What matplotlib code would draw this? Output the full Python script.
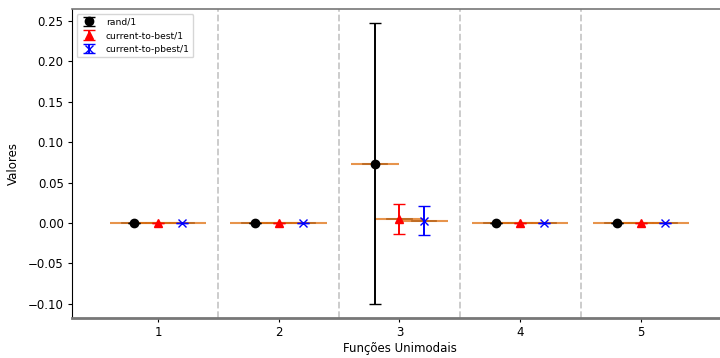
"""
Mean and std of the final error for three DE mutation strategies
on the unimodal benchmark functions.
"""

import matplotlib

matplotlib.use("Agg")
from matplotlib import pyplot as plt

functions = [1, 2, 3, 4, 5]
strategies = ["rand/1", "current-to-best/1", "current-to-pbest/1"]

rand_mean = [0.0, 0.0, 0.0735, 0.0, 0.0]
rand_std = [0.0, 0.0, 0.1735, 0.0, 0.0]
best_mean = [0.0, 0.0, 0.0050, 0.0, 0.0]
best_std = [0.0, 0.0, 0.0180, 0.0, 0.0]
pbest_mean = [0.0, 0.0, 0.0028, 0.0, 0.0]
pbest_std = [0.0, 0.0, 0.0180, 0.0, 0.0]

means = [rand_mean, best_mean, pbest_mean]
stds = [rand_std, best_std, pbest_std]
offsets = [-0.2, 0.0, 0.2]
colors = ["black", "red", "blue"]
markers = ["o", "^", "x"]

fig = plt.figure(figsize=(7.2, 3.58), dpi=100)
ax = fig.add_axes([0.1, 0.112, 0.9096, 0.862])

# boxplot of the means (collapses to a median line at each position)
for mean, off in zip(means, offsets):
    stats = [
        dict(med=m, q1=m, q3=m, whislo=m, whishi=m, fliers=[])
        for m in mean
    ]
    ax.bxp(
        stats,
        positions=[f + off for f in functions],
        widths=0.4,
        showbox=False,
        manage_ticks=False,
        medianprops=dict(color="#e07010", alpha=0.75, linewidth=1.5),
        capprops=dict(color="#333333", alpha=0.6, linewidth=1.2),
        whiskerprops=dict(color="#333333", alpha=0.6, linewidth=0.8),
    )

for name, mean, std, off, c, mk in zip(strategies, means, stds, offsets, colors, markers):
    ax.errorbar(
        [f + off for f in functions],
        mean,
        yerr=std,
        fmt=mk,
        color=c,
        ecolor=c,
        markersize=6,
        capsize=4,
        elinewidth=1.4,
        label=name,
        zorder=3,
    )

for f in functions[:-1]:
    ax.axvline(f + 0.5, color="#c8c8c8", linestyle="--", linewidth=1.3, zorder=0)

ax.set_xlim(0.288, 5.712)
ax.set_xticks(functions)
ax.set_xticklabels([str(f) for f in functions])
ax.tick_params(labelsize=8.5, length=3, pad=3)
ax.set_xlabel("Funções Unimodais", fontsize=8.5, labelpad=2)
ax.set_ylabel("Valores", fontsize=8.5, labelpad=6)

ax.spines["bottom"].set_color("#777777")
ax.spines["bottom"].set_linewidth(2)
ax.spines["top"].set_color("#777777")
ax.spines["top"].set_linewidth(1.2)

ax.legend(loc="upper left", fontsize=6.6)

fig.savefig("out.png", dpi=100)
